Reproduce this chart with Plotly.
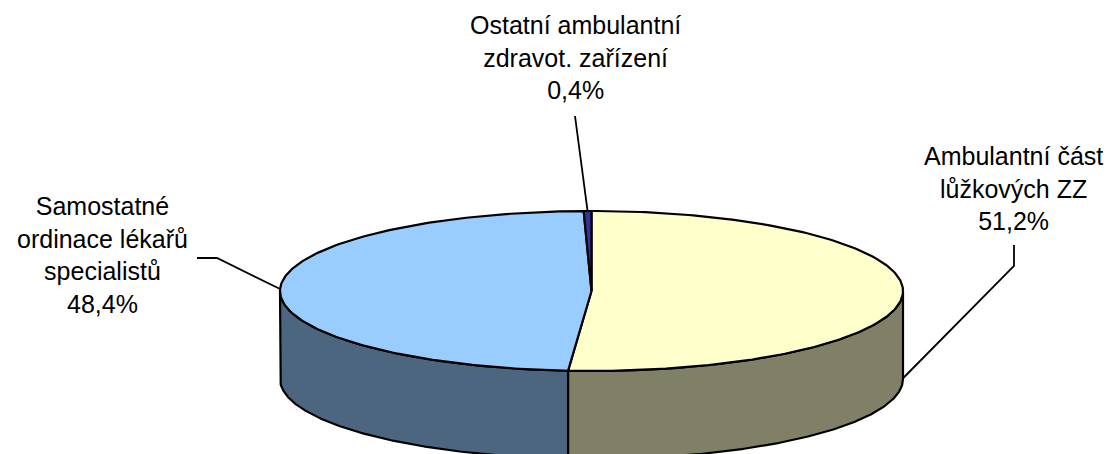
import numpy as np
import plotly.graph_objects as go

# ---- data ----
categories = ["Ambulantní část<br>lůžkových ZZ",
              "Samostatné<br>ordinace lékařů<br>specialistů",
              "Ostatní ambulantní<br>zdravot. zařízení"]
shares = [51.2, 48.4, 0.4]
pct_labels = ["51,2%", "48,4%", "0,4%"]

# ---- styling / layout constants ----
top_colors = ["#FFFFCC", "#99CCFF", "#333399"]
side_colors = ["#808066", "#4D6680", "#1A1A4D"]
W, H = 1114, 454          # browser window
PAGE_OFF = 8              # default body margin of the html page
CX, CY, RX, RY, DEPTH = 591.5, 291.0, 311.5, 80.0, 88.0
label_pos = [(1013, 188), (102, 255), (575, 57)]
leader_start = [[(1014, 245), (1014, 266)],
                [(197, 258), (217, 258)],
                [(575, 116), (577, 132)]]
leader_dz = [DEPTH * 0.96, 0.0, 0.0]
FONT = "Arial, Liberation Sans, sans-serif"


def pt(t, dz=0.0):
    return CX + RX * np.sin(t), CY - RY * np.cos(t) + dz


fig = go.Figure()

frac = np.array(shares) / np.sum(shares)
ends = np.cumsum(frac) * 2 * np.pi
starts = ends - frac * 2 * np.pi

# side faces (front half only)
for i in range(len(shares)):
    lo = max(starts[i], np.pi / 2)
    hi = min(ends[i], 3 * np.pi / 2)
    if hi <= lo:
        continue
    t = np.linspace(lo, hi, 200)
    xt, yt = pt(t)
    xb, yb = pt(t[::-1], DEPTH)
    xs = np.concatenate([xt, xb, xt[:1]])
    ys = np.concatenate([yt, yb, yt[:1]])
    fig.add_trace(go.Scatter(x=xs, y=ys, mode="lines", fill="toself",
                             fillcolor=side_colors[i],
                             line=dict(color="black", width=2.2),
                             hoverinfo="skip", showlegend=False))

# top faces
for i in range(len(shares)):
    n = max(int(400 * frac[i]), 8)
    t = np.linspace(starts[i], ends[i], n)
    xa, ya = pt(t)
    xs = np.concatenate([[CX], xa, [CX]])
    ys = np.concatenate([[CY], ya, [CY]])
    fig.add_trace(go.Scatter(x=xs, y=ys, mode="lines", fill="toself",
                             fillcolor=top_colors[i],
                             line=dict(color="black", width=2.2),
                             hoverinfo="skip", showlegend=False))

# leader lines + labels
for i in range(len(shares)):
    mid = (starts[i] + ends[i]) / 2
    ex, ey = pt(mid, leader_dz[i])
    pts = leader_start[i] + [(ex, ey)]
    fig.add_trace(go.Scatter(x=[p[0] for p in pts], y=[p[1] for p in pts],
                             mode="lines", line=dict(color="black", width=1.8),
                             hoverinfo="skip", showlegend=False))
    fig.add_annotation(x=label_pos[i][0], y=label_pos[i][1],
                       text=categories[i] + "<br>" + pct_labels[i],
                       showarrow=False, xanchor="center", yanchor="middle",
                       align="center",
                       font=dict(family=FONT, size=25, color="black"))

fig.update_xaxes(range=[PAGE_OFF, W], visible=False, fixedrange=True)
fig.update_yaxes(range=[H, PAGE_OFF], visible=False, fixedrange=True)
fig.update_layout(width=W - PAGE_OFF, height=H - PAGE_OFF,
                  margin=dict(l=0, r=0, t=0, b=0),
                  plot_bgcolor="white", paper_bgcolor="white",
                  showlegend=False)

fig.write_html("out.html")
